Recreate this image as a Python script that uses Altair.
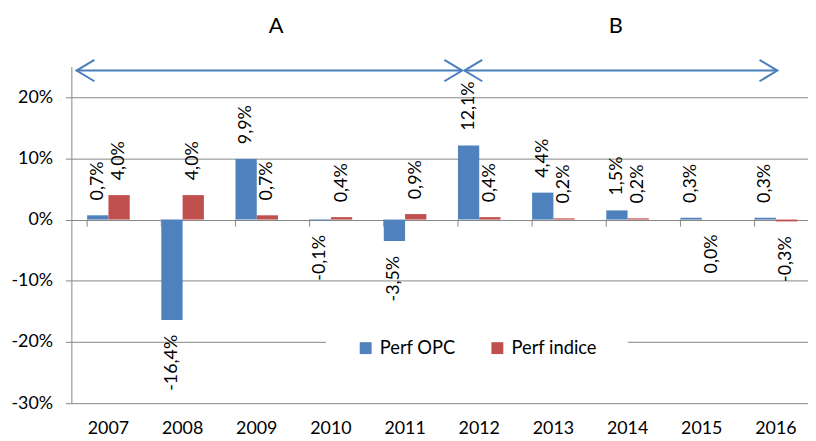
import altair as alt
import pandas as pd

# ---- data ----
years = ["2007", "2008", "2009", "2010", "2011", "2012", "2013", "2014", "2015", "2016"]
series_names = ["Perf OPC", "Perf indice"]
perf_opc = [0.7, -16.4, 9.9, -0.1, -3.5, 12.1, 4.4, 1.5, 0.3, 0.3]
perf_indice = [4.0, 4.0, 0.7, 0.4, 0.9, 0.4, 0.2, 0.2, 0.0, -0.3]
series_colors = ["#4F81BD", "#C0504D"]
y_ticks = [-30, -20, -10, 0, 10, 20]

# period annotations (x in category units, y in % units)
period_labels = ["A", "B"]
period_start = [0.07, 5.30]
period_end = [5.27, 9.52]
period_label_x = [2.76, 7.34]
arrow_level = 24.35
label_level = 31.6

FONT = "Lato"
GRID = "#868686"
ARROW = "#4A7EBB"

rows = []
for name, vals in zip(series_names, [perf_opc, perf_indice]):
    for y, v in zip(years, vals):
        rows.append({"year": y, "series": name, "value": v,
                     "label": f"{v:.1f}%".replace(".", ",")})
df = pd.DataFrame(rows)

x_scale = alt.Scale(domain=years, range=[0, 749], paddingInner=0.426, paddingOuter=0.213)
y_scale = alt.Scale(domain=[-30, 25], nice=False, zero=False)

x_enc = alt.X("year:N", sort=years, scale=x_scale,
              axis=alt.Axis(title=None, domain=False, ticks=False, grid=False,
                            labelAngle=0, labelFont=FONT, labelFontSize=18,
                            labelColor="black", labelPadding=17))
y_enc = alt.Y("value:Q", scale=y_scale, stack=None,
              axis=alt.Axis(title=None, values=y_ticks, labelExpr="datum.value + '%'",
                            grid=True, gridColor=GRID, gridWidth=1,
                            domainColor=GRID, tickColor=GRID, tickSize=6,
                            labelFont=FONT, labelFontSize=18, labelColor="black",
                            labelPadding=13))
xoff = alt.XOffset("series:N", sort=series_names, scale=alt.Scale(domain=series_names, paddingInner=0, paddingOuter=0))
color = alt.Color("series:N", sort=series_names,
                  scale=alt.Scale(domain=series_names, range=series_colors),
                  legend=alt.Legend(title=None, orient="none", legendX=257, legendY=244,
                                    direction="horizontal", symbolType="square",
                                    symbolSize=144, symbolStrokeWidth=0,
                                    labelFont=FONT, labelFontSize=18.5, labelColor="black",
                                    labelOffset=5, columnPadding=32, padding=31,
                                    fillColor="white"))

bars = alt.Chart(df).mark_bar().encode(
    x=x_enc, xOffset=xoff, y=y_enc, y2=alt.datum(0), color=color
)

txt_pos = alt.Chart(df).transform_filter("datum.value > 0").mark_text(
    angle=270, align="left", baseline="middle", dx=15, font=FONT, fontSize=18, color="black"
).encode(x=alt.X("year:N", sort=years), xOffset=alt.XOffset("series:N", sort=series_names),
         y="value:Q", text="label:N")

txt_neg = alt.Chart(df).transform_filter("datum.value <= 0").mark_text(
    angle=270, align="right", baseline="middle", dx=-15, font=FONT, fontSize=18, color="black"
).encode(x=alt.X("year:N", sort=years), xOffset=alt.XOffset("series:N", sort=series_names),
         y="value:Q", text="label:N")

ticks_df = pd.DataFrame({"year": years})
zero_ticks = alt.Chart(ticks_df).mark_rule(color=GRID, strokeWidth=1).encode(
    x=alt.X("year:N", sort=years, bandPosition=0),
    y=alt.datum(0), y2=alt.datum(-1.15)
)

main = alt.layer(bars, zero_ticks, txt_pos, txt_neg)

ann_df = pd.DataFrame({"start": period_start, "end": period_end,
                       "level": [arrow_level] * 2})
lab_df = pd.DataFrame({"pos": period_label_x, "level": [label_level] * 2,
                       "text": period_labels})
ax = alt.Scale(domain=[0, 10], range=[0, 749])

lines = alt.Chart(ann_df).mark_rule(color=ARROW, strokeWidth=2).encode(
    x=alt.X("start:Q", scale=ax, axis=None), x2="end:Q", y="level:Q")
heads_l = alt.Chart(ann_df).mark_point(
    shape="M1,-0.6L0,0L1,0.6", filled=False, size=1296, strokeWidth=2, color=ARROW, opacity=1
).encode(x=alt.X("start:Q", scale=ax, axis=None), y="level:Q")
heads_r = alt.Chart(ann_df).mark_point(
    shape="M-1,-0.6L0,0L-1,0.6", filled=False, size=1296, strokeWidth=2, color=ARROW, opacity=1
).encode(x=alt.X("end:Q", scale=ax, axis=None), y="level:Q")
ann_text = alt.Chart(lab_df).mark_text(
    font=FONT, fontSize=22, color="black", baseline="middle", align="center"
).encode(x=alt.X("pos:Q", scale=ax, axis=None), y="level:Q", text="text:N")

ann = alt.layer(lines, heads_l, heads_r, ann_text)

chart = alt.layer(main, ann).resolve_scale(x="independent").properties(
    width=744, height=340,
    autosize=alt.AutoSizeParams(type="none"),
    padding={"left": 64, "top": 57, "right": 0, "bottom": 33},
    background="white",
).configure_view(stroke=None)

chart.save("out.html", embed_options={"renderer": "svg", "actions": False})
